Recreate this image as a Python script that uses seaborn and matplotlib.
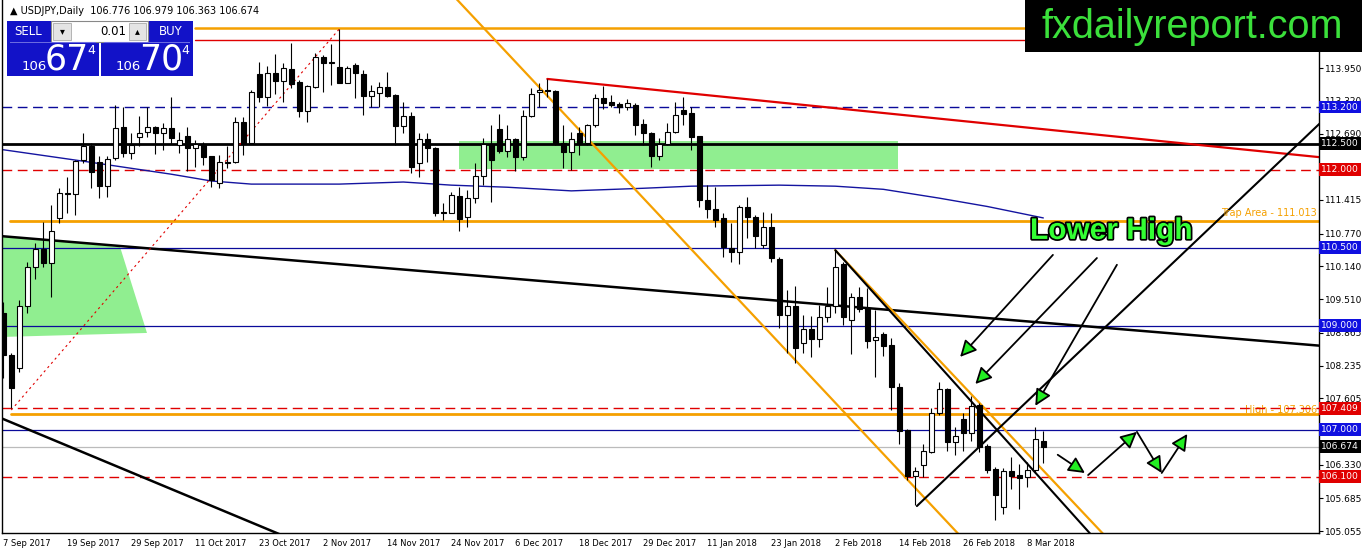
import matplotlib
matplotlib.use('Agg')
import matplotlib.pyplot as plt
import matplotlib.patheffects as pe
from matplotlib.patches import Rectangle, FancyArrowPatch
from matplotlib.transforms import blended_transform_factory
import seaborn as sns
import pandas as pd
import numpy as np

# ---- candle data (USDJPY daily) ----
opens = [109.24, 108.44, 108.19, 109.38, 110.13, 110.47, 110.20, 111.07, 111.55, 111.53,
         112.18, 112.45, 112.14, 111.68, 112.22, 112.82, 112.32, 112.62, 112.72, 112.82,
         112.70, 112.80, 112.47, 112.64, 112.41, 112.49, 112.26, 111.74, 112.12, 112.14,
         112.91, 112.51, 113.84, 113.39, 113.86, 113.70, 113.93, 113.68, 113.12, 113.58,
         114.16, 114.06, 113.97, 113.66, 114.00, 113.84, 113.41, 113.47, 113.58, 113.43,
         112.83, 113.03, 112.12, 112.58, 112.41, 111.19, 111.16, 111.49, 111.09, 111.45,
         111.88, 112.49, 112.78, 112.35, 112.58, 112.24, 113.03, 113.49, 113.53, 113.51,
         112.51, 112.34, 112.70, 112.51, 112.85, 113.37, 113.30, 113.26, 113.20, 113.24,
         112.87, 112.70, 112.26, 112.49, 112.72, 113.14, 113.09, 112.64, 111.41, 111.24,
         111.07, 110.49, 110.41, 111.28, 111.09, 110.55, 110.89, 110.28, 109.20, 109.38,
         108.66, 108.93, 108.74, 109.16, 109.38, 110.18, 109.11, 109.55, 109.34, 108.72,
         108.84, 108.63, 107.82, 107.00, 106.11, 106.32, 106.57, 107.32, 107.78, 106.76,
         107.21, 106.94, 107.48, 106.69, 106.25, 105.52, 106.21, 106.13, 106.09, 106.23,
         106.776]
highs = [109.45, 108.47, 109.49, 110.22, 110.59, 110.99, 111.32, 111.64, 111.86, 112.18,
         112.70, 112.51, 112.26, 112.26, 113.24, 113.20, 112.70, 113.03, 113.20, 112.84,
         112.89, 113.39, 112.72, 112.82, 112.57, 112.53, 112.26, 112.28, 112.45, 113.01,
         113.01, 113.53, 114.07, 113.99, 114.22, 114.05, 114.43, 113.72, 113.62, 114.24,
         114.20, 114.41, 114.70, 113.99, 114.05, 113.91, 113.62, 113.68, 113.87, 113.45,
         113.30, 113.10, 112.70, 112.70, 112.43, 111.36, 111.57, 111.66, 111.60, 112.12,
         112.60, 112.85, 113.07, 112.85, 112.60, 113.14, 113.57, 113.66, 113.74, 113.52,
         112.85, 112.72, 112.82, 112.87, 113.45, 113.60, 113.43, 113.30, 113.35, 113.28,
         112.97, 112.72, 112.60, 112.89, 113.30, 113.39, 113.20, 112.64, 111.70, 111.66,
         111.16, 110.97, 111.32, 111.47, 111.13, 111.18, 111.16, 110.32, 109.68, 109.76,
         109.20, 109.18, 109.40, 109.74, 110.45, 110.22, 109.63, 109.74, 109.72, 109.30,
         108.88, 108.76, 107.90, 107.02, 106.28, 106.73, 107.42, 107.92, 107.80, 107.05,
         107.32, 107.65, 107.51, 106.73, 106.28, 106.26, 106.48, 106.34, 106.38, 107.05,
         106.979]
lows = [108.00, 107.42, 108.11, 109.24, 109.90, 110.13, 109.55, 110.97, 111.16, 111.13,
        112.12, 111.64, 111.45, 111.47, 112.18, 112.24, 112.20, 112.45, 112.62, 112.30,
        112.37, 112.49, 112.32, 111.97, 112.04, 112.08, 111.66, 111.64, 112.03, 112.12,
        112.28, 112.51, 113.30, 113.22, 113.45, 113.30, 113.57, 113.00, 112.91, 113.57,
        113.49, 113.62, 113.66, 113.66, 113.37, 113.05, 113.20, 113.20, 113.39, 112.47,
        112.70, 111.93, 111.86, 112.14, 111.11, 111.03, 111.16, 110.82, 110.89, 111.36,
        111.70, 111.38, 112.32, 112.24, 111.97, 112.18, 113.01, 113.20, 113.39, 112.47,
        112.03, 111.99, 112.28, 112.47, 112.82, 113.16, 113.20, 113.09, 113.14, 112.66,
        112.47, 112.05, 112.18, 112.47, 112.70, 112.85, 112.37, 111.28, 111.07, 110.89,
        110.32, 110.22, 110.18, 110.68, 110.49, 110.49, 110.22, 108.96, 108.47, 108.28,
        108.47, 108.40, 108.59, 109.07, 109.24, 109.01, 108.45, 109.26, 108.57, 108.01,
        108.42, 107.38, 106.73, 106.03, 105.55, 106.09, 106.55, 107.28, 106.59, 106.52,
        106.59, 106.78, 106.57, 106.17, 105.27, 105.38, 105.86, 105.48, 105.90, 106.17,
        106.363]
closes = [108.44, 107.80, 109.38, 110.13, 110.47, 110.20, 110.82, 111.55, 111.53, 112.16,
          112.45, 111.95, 111.68, 112.20, 112.80, 112.32, 112.47, 112.70, 112.82, 112.70,
          112.80, 112.60, 112.56, 112.41, 112.49, 112.24, 111.80, 112.14, 112.15, 112.91,
          112.51, 113.49, 113.39, 113.86, 113.70, 113.95, 113.64, 113.12, 113.60, 114.16,
          114.05, 114.04, 113.66, 113.95, 113.85, 113.41, 113.51, 113.58, 113.41, 112.83,
          113.03, 112.05, 112.58, 112.41, 111.16, 111.17, 111.51, 111.05, 111.45, 111.88,
          112.49, 112.18, 112.35, 112.58, 112.24, 113.03, 113.45, 113.52, 113.50, 112.51,
          112.34, 112.58, 112.51, 112.85, 113.37, 113.28, 113.24, 113.20, 113.28, 112.85,
          112.70, 112.26, 112.49, 112.72, 113.05, 113.07, 112.62, 111.41, 111.24, 111.03,
          110.51, 110.41, 111.28, 111.09, 110.72, 110.89, 110.30, 109.20, 109.38, 108.57,
          108.93, 108.74, 109.16, 109.38, 110.13, 109.16, 109.55, 109.32, 108.70, 108.78,
          108.61, 107.82, 106.98, 106.11, 106.21, 106.59, 107.32, 107.78, 106.76, 106.88,
          106.94, 107.46, 106.67, 106.23, 105.75, 106.21, 106.11, 106.07, 106.23, 106.82,
          106.674]

tick_bars = [0, 8, 16, 24, 32, 40, 48, 56, 64, 72, 80, 88, 96, 104, 112, 120, 128]
tick_labels = ['7 Sep 2017', '19 Sep 2017', '29 Sep 2017', '11 Oct 2017', '23 Oct 2017',
               '2 Nov 2017', '14 Nov 2017', '24 Nov 2017', '6 Dec 2017', '18 Dec 2017',
               '29 Dec 2017', '11 Jan 2018', '23 Jan 2018', '2 Feb 2018', '14 Feb 2018',
               '26 Feb 2018', '8 Mar 2018']
price_ticks = [113.950, 113.320, 112.690, 112.045, 111.415, 110.770, 110.140, 109.510,
               108.865, 108.235, 107.605, 106.960, 106.330, 105.685, 105.055]

# moving average, sampled along the curve
ma_bars = [0, 10, 21, 26, 31, 42, 50, 56, 63, 71, 80, 86, 97, 104, 110, 117, 123, 130]
ma_vals = [112.38, 112.16, 111.91, 111.78, 111.72, 111.72, 111.76, 111.70, 111.66, 111.59,
           111.64, 111.68, 111.70, 111.68, 111.62, 111.45, 111.29, 111.07]

# horizontal levels: price and style kind
level_prices = [113.200, 112.500, 112.000, 110.500, 109.000, 107.409, 107.000, 106.674, 106.100]
level_kinds = ['blue_dash', 'black', 'red_dash', 'blue', 'blue', 'red_dash', 'blue', 'silver', 'red_dash']

# trend lines (bar index, price)
main_trend_bars, main_trend_px = [-1, 165], [110.73, 108.61]
low_trend_bars, low_trend_px = [-1, 36], [107.27, 104.90]
red_dot_bars, red_dot_px = [1, 42], [107.38, 114.70]
chan_a_bars, chan_a_px = [56.5, 119.5], [115.30, 104.98]
chan_b_bars, chan_b_px = [104, 137.6], [110.45, 104.98]
chan_c_bars, chan_c_px = [104, 136.0], [110.45, 104.98]
rise_bars, rise_px = [114.2, 165], [105.535, 112.95]
resist_bars, resist_px = [68, 165], [113.74, 112.23]
top_orange_bars, top_orange_px = [24, 165], [114.72, 114.72]
top_red_bars, top_red_px = [24, 165], [114.49, 114.49]
trap_bars, trap_px = [0.85, 165], [111.013, 111.013]
high_bars, high_px = [1, 165], [107.306, 107.306]

# green zones
zone_left_bars = [-1, 14.6, 17.96, -1]
zone_left_px = [110.74, 110.51, 108.86, 108.78]
zone_mid_bars = [57, 111.8]
zone_mid_px = [112.01, 112.55]

# arrows (start bar, start price, end bar, end price)
lh_arrows = [(131.2, 110.36, 119.6, 108.40),
             (136.7, 110.30, 121.5, 107.88),
             (139.2, 110.17, 129.0, 107.46)]
zig_arrows = [(131.8, 106.52, 135.2, 106.17),
              (135.6, 106.13, 141.7, 106.96),
              (141.7, 106.96, 144.8, 106.17),
              (144.8, 106.17, 148.0, 106.92)]

W, H = 1362, 554
ORANGE = '#F5A000'
RED = '#E00000'
NAVY = '#0A0A9A'
BOXBLUE = '#1010E0'
GREEN_ZONE = '#90EE90'

sns.set_style('white')
plt.rcParams['font.family'] = ['DejaVu Sans']

df = pd.DataFrame({'bar': np.arange(len(opens)), 'open': opens, 'high': highs,
                   'low': lows, 'close': closes})

fig = plt.figure(figsize=(W / 100, H / 100), dpi=100)
ax = fig.add_axes([2 / W, 21 / H, 1317 / W, 533 / H])
ax.set_facecolor('white')
ax.set_xlim(-0.1625, 164.46)
ax.set_ylim(105.017, 115.257)

# green zones
ax.fill(zone_left_bars, zone_left_px, color=GREEN_ZONE, lw=0, zorder=0.5)
ax.fill([zone_mid_bars[0], zone_mid_bars[1], zone_mid_bars[1], zone_mid_bars[0]],
        [zone_mid_px[0], zone_mid_px[0], zone_mid_px[1], zone_mid_px[1]],
        color=GREEN_ZONE, lw=0, zorder=0.5)

# horizontal levels
styles = {
    'blue_dash': dict(color=NAVY, lw=1.0, ls=(0, (7, 4))),
    'black': dict(color='black', lw=2.0, ls='-'),
    'red_dash': dict(color=RED, lw=1.0, ls=(0, (7, 4))),
    'blue': dict(color=NAVY, lw=0.9, ls='-'),
    'silver': dict(color='#BBBBBB', lw=0.9, ls='-'),
}
box_colors = {'blue_dash': BOXBLUE, 'black': 'black', 'red_dash': RED,
              'blue': BOXBLUE, 'silver': 'black'}
for p, kind in zip(level_prices, level_kinds):
    ax.axhline(p, zorder=1.5, **styles[kind])

# moving average
sns.lineplot(x=ma_bars, y=ma_vals, ax=ax, color='#1414A0', lw=1.0, legend=False, zorder=1.6)

# lines
ax.plot(top_orange_bars, top_orange_px, color=ORANGE, lw=1.8, zorder=1.7)
ax.plot(top_red_bars, top_red_px, color=RED, lw=1.0, zorder=1.7)
ax.plot(trap_bars, trap_px, color=ORANGE, lw=2.0, zorder=1.7)
ax.plot(high_bars, high_px, color=ORANGE, lw=2.0, zorder=1.7)
ax.plot(main_trend_bars, main_trend_px, color='black', lw=1.8, zorder=1.8)
ax.plot(low_trend_bars, low_trend_px, color='black', lw=1.8, zorder=1.8)
ax.plot(red_dot_bars, red_dot_px, color=RED, lw=0.8, ls=(0, (2, 3)), zorder=1.8)
ax.plot(resist_bars, resist_px, color=RED, lw=1.6, zorder=1.8)
ax.plot(chan_a_bars, chan_a_px, color=ORANGE, lw=1.6, zorder=1.8)
ax.plot(chan_b_bars, chan_b_px, color=ORANGE, lw=1.6, zorder=1.8)
ax.plot(chan_c_bars, chan_c_px, color='black', lw=1.5, zorder=1.8)
ax.plot(rise_bars, rise_px, color='black', lw=1.5, zorder=1.8)

# candles
ax.vlines(df['bar'], df['low'], df['high'], color='black', lw=0.8, zorder=3)
up = df[df['close'] >= df['open']]
dn = df[df['close'] < df['open']]
ax.bar(up['bar'], np.maximum(up['close'] - up['open'], 0.02), bottom=up['open'],
       width=0.62, color='white', edgecolor='black', lw=0.8, zorder=3.1)
ax.bar(dn['bar'], np.maximum(dn['open'] - dn['close'], 0.02), bottom=dn['close'],
       width=0.62, color='black', edgecolor='black', lw=0.8, zorder=3.1)

# labels on lines
ax.text(164.2, 111.06, 'Trap Area - 111.013', color=ORANGE, fontsize=7, ha='right',
        va='bottom', zorder=4)
ax.text(164.2, 107.28, 'High - 107.306', color=ORANGE, fontsize=7, ha='right',
        va='bottom', zorder=1.4)

# arrows
for x0, y0, x1, y1 in lh_arrows + zig_arrows:
    ax.add_patch(FancyArrowPatch((x0, y0), (x1, y1),
                                 arrowstyle='-|>,head_length=0.9,head_width=0.45',
                                 mutation_scale=11, fc='#22EE22', ec='black', lw=1.3,
                                 shrinkA=0, shrinkB=0, zorder=5))

ax.text(138.5, 110.82, 'Lower High', color='#33FF33', fontsize=21.5, fontweight='bold',
        family=['Liberation Sans', 'DejaVu Sans'], ha='center', va='center', zorder=6,
        path_effects=[pe.withStroke(linewidth=2.5, foreground='black')])

# axes frame & ticks
for s in ['left', 'bottom', 'right']:
    ax.spines[s].set_visible(True)
    ax.spines[s].set_color('black')
    ax.spines[s].set_linewidth(1.0)
ax.spines['top'].set_visible(False)
ax.yaxis.tick_right()
ax.set_yticks(price_ticks)
ax.set_yticklabels([f'{p:.3f}' for p in price_ticks])
ax.tick_params(axis='y', direction='out', length=3, width=0.8, pad=1.5, labelsize=6.5,
               colors='black')
ax.set_xticks(tick_bars)
ax.set_xticklabels(tick_labels, ha='left')
ax.tick_params(axis='x', direction='out', length=3, width=0.8, pad=1.5, labelsize=6.0,
               colors='black')
ax.set_xlabel('')
ax.set_ylabel('')

# price label boxes on right axis
tr = blended_transform_factory(ax.transAxes, ax.transData)
for p, kind in zip(level_prices, level_kinds):
    ax.text(1.0015, p, f'{p:.3f}', transform=tr, color='white', fontsize=6.6, ha='left',
            va='center', zorder=10, clip_on=False,
            bbox=dict(boxstyle='square,pad=0.2', fc=box_colors[kind], ec='none'))


# ---- overlay: logo and trade panel (pixel coords, top-left origin) ----
def rect(x0, y0, x1, y1, fc, ec='none', lw=0, z=20):
    fig.add_artist(Rectangle((x0 / W, 1 - y1 / H), (x1 - x0) / W, (y1 - y0) / H,
                             transform=fig.transFigure, fc=fc, ec=ec, lw=lw, zorder=z))


def ftext(x, y, s, **kw):
    fig.text(x / W, 1 - y / H, s, zorder=kw.pop('zorder', 22), **kw)


rect(1025, 0, 1362, 52, 'black')
ftext(1192, 27, 'fxdailyreport.com', color='#3BE03B', fontsize=28.5,
      family=['Liberation Sans', 'DejaVu Sans'], ha='center', va='center')

ftext(10, 11, '\u25b2 USDJPY,Daily  106.776 106.979 106.363 106.674', fontsize=7,
      ha='left', va='center', color='black')

rect(7, 21, 99, 76, '#1212C8')
rect(101, 21, 193, 76, '#1212C8')
rect(51, 21, 148, 42, 'white', ec='#888888', lw=0.8, z=21)
rect(53, 23, 71, 40, '#E4E4E4', ec='#AAAAAA', lw=0.6, z=22)
rect(129, 23, 146, 40, '#E4E4E4', ec='#AAAAAA', lw=0.6, z=22)
rect(10, 42, 96, 43, '#6A6AE0', z=21)
rect(104, 42, 190, 43, '#6A6AE0', z=21)
ftext(62, 31.5, '\u25be', fontsize=7, ha='center', va='center', color='black', zorder=23)
ftext(137.5, 31.5, '\u25b4', fontsize=7, ha='center', va='center', color='black', zorder=23)
ftext(126, 31.5, '0.01', fontsize=8.5, ha='right', va='center', color='black')
ftext(28, 31.5, 'SELL', fontsize=8.5, ha='center', va='center', color='white')
ftext(171, 31.5, 'BUY', fontsize=8.5, ha='center', va='center', color='white')
for bx, big in [(7, '67'), (101, '70')]:
    ftext(bx + 15, 66, '106', fontsize=9.5, ha='left', va='center', color='white')
    ftext(bx + 38, 60, big, fontsize=25, ha='left', va='center', color='white')
    ftext(bx + 80, 51, '4', fontsize=9, ha='left', va='center', color='white')

fig.savefig('out.png', dpi=100, facecolor='white')
